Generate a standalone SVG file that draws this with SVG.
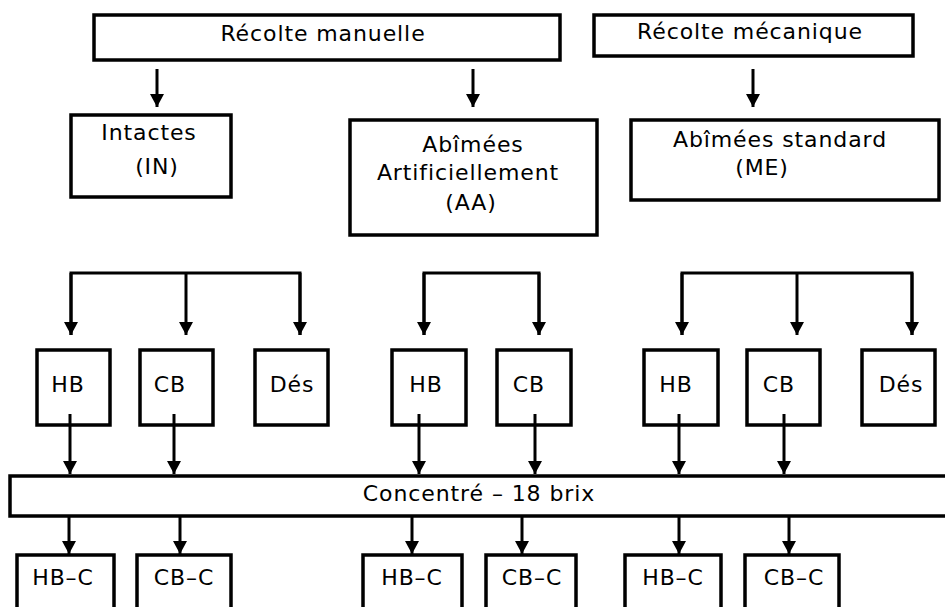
<svg xmlns="http://www.w3.org/2000/svg" width="945" height="607" viewBox="0 0 945 607">
<defs>
<marker id="ah" markerUnits="userSpaceOnUse" markerWidth="14" markerHeight="14" refX="13" refY="7" orient="auto" viewBox="0 0 14 14">
<path d="M0,0 L13,7 L0,14 z" fill="#000"/>
</marker>
<style>
rect{fill:#fff;stroke:#000;stroke-width:3.5}
text{font-family:"DejaVu Sans","Liberation Sans",sans-serif;font-size:22px;letter-spacing:0.9px;fill:#000;text-anchor:middle}
.c line,.c path{stroke:#000;stroke-width:3;fill:none}
.a{marker-end:url(#ah)}
</style>
</defs>
<rect width="945" height="607" style="fill:#fff;stroke:none"/>
<g id="manuelle"><rect x="94" y="15" width="466" height="45"/><text x="323" y="41">Récolte manuelle</text></g>
<g id="mecanique"><rect x="594" y="15" width="319" height="41"/><text x="750" y="39">Récolte mécanique</text></g>
<g id="intactes"><rect x="71" y="115" width="160" height="82"/><text x="149" y="140">Intactes</text><text x="157" y="174">(IN)</text></g>
<g id="aa"><rect x="350" y="120" width="247" height="115"/><text x="473" y="152">Abîmées</text><text x="468" y="180">Artificiellement</text><text x="471" y="210">(AA)</text></g>
<g id="me"><rect x="631" y="120" width="308" height="80"/><text x="780" y="147">Abîmées standard</text><text x="762" y="175">(ME)</text></g>
<g id="in-hb"><rect x="37" y="350" width="73" height="75"/><text x="68" y="392">HB</text></g>
<g id="in-cb"><rect x="140" y="350" width="73" height="75"/><text x="170" y="392">CB</text></g>
<g id="in-des"><rect x="255" y="350" width="73" height="75"/><text x="292" y="392">Dés</text></g>
<g id="aa-hb"><rect x="392" y="350" width="74" height="75"/><text x="426" y="392">HB</text></g>
<g id="aa-cb"><rect x="497" y="350" width="74" height="75"/><text x="529" y="392">CB</text></g>
<g id="me-hb"><rect x="644" y="350" width="74" height="75"/><text x="676" y="392">HB</text></g>
<g id="me-cb"><rect x="747" y="350" width="73" height="75"/><text x="779" y="392">CB</text></g>
<g id="me-des"><rect x="862" y="350" width="73" height="75"/><text x="901" y="392">Dés</text></g>
<g id="concentre"><rect x="10" y="476" width="945" height="40"/><text x="479" y="501">Concentré – 18 brix</text></g>
<g id="in-hbc"><rect x="17" y="555" width="97" height="70"/><text x="63" y="585">HB–C</text></g>
<g id="in-cbc"><rect x="137" y="555" width="94" height="70"/><text x="184" y="585">CB–C</text></g>
<g id="aa-hbc"><rect x="363" y="555" width="99" height="70"/><text x="412" y="585">HB–C</text></g>
<g id="aa-cbc"><rect x="486" y="555" width="90" height="70"/><text x="532" y="585">CB–C</text></g>
<g id="me-hbc"><rect x="625" y="555" width="96" height="70"/><text x="673" y="585">HB–C</text></g>
<g id="me-cbc"><rect x="745" y="555" width="94" height="70"/><text x="794" y="585">CB–C</text></g>
<g id="connectors" class="c">
<line class="a" x1="157" y1="69" x2="157" y2="107"/>
<line class="a" x1="473" y1="69" x2="473" y2="107"/>
<line class="a" x1="753" y1="69" x2="753" y2="107"/>
<path d="M71,335 V273 H300 V335"/>
<line class="a" x1="71" y1="273" x2="71" y2="335"/>
<line class="a" x1="186" y1="273" x2="186" y2="335"/>
<line class="a" x1="300" y1="273" x2="300" y2="335"/>
<path d="M424,335 V273 H539 V335"/>
<line class="a" x1="424" y1="273" x2="424" y2="335"/>
<line class="a" x1="539" y1="273" x2="539" y2="335"/>
<path d="M682,335 V273 H912 V335"/>
<line class="a" x1="682" y1="273" x2="682" y2="335"/>
<line class="a" x1="797" y1="273" x2="797" y2="335"/>
<line class="a" x1="912" y1="273" x2="912" y2="335"/>
<line class="a" x1="70" y1="414" x2="70" y2="474"/>
<line class="a" x1="174" y1="414" x2="174" y2="474"/>
<line class="a" x1="419" y1="414" x2="419" y2="474"/>
<line class="a" x1="535" y1="414" x2="535" y2="474"/>
<line class="a" x1="679" y1="414" x2="679" y2="474"/>
<line class="a" x1="784" y1="414" x2="784" y2="474"/>
<line class="a" x1="69" y1="517" x2="69" y2="554"/>
<line class="a" x1="180" y1="517" x2="180" y2="554"/>
<line class="a" x1="412" y1="517" x2="412" y2="554"/>
<line class="a" x1="522" y1="517" x2="522" y2="554"/>
<line class="a" x1="679" y1="517" x2="679" y2="554"/>
<line class="a" x1="789" y1="517" x2="789" y2="554"/>
</g>
</svg>
